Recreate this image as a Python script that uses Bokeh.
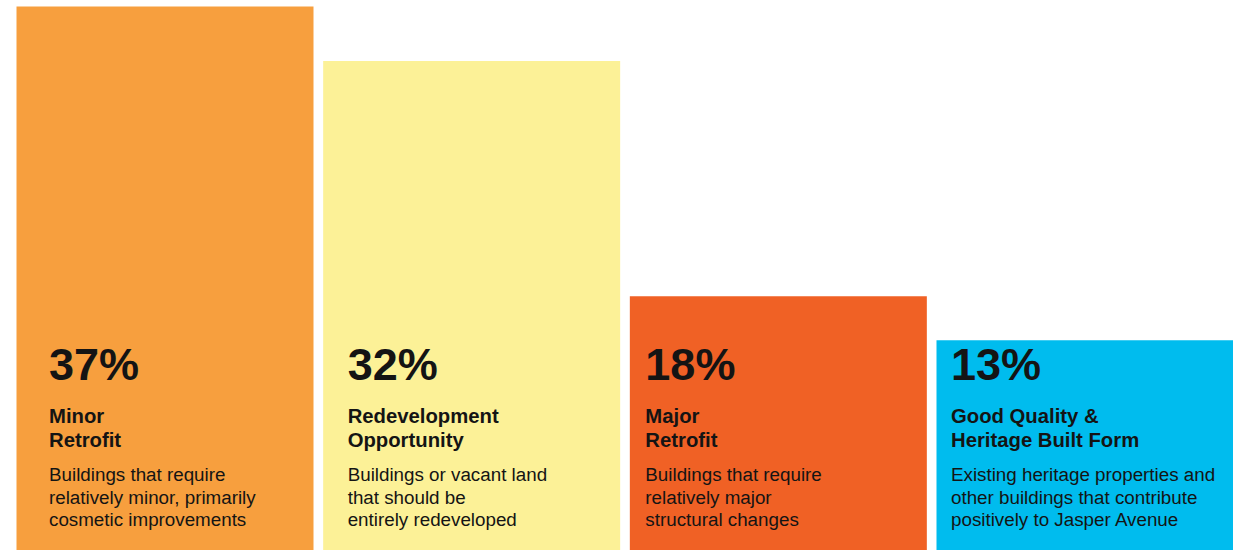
from bokeh.plotting import figure
from bokeh.models import ColumnDataSource, Range1d
from bokeh.core.properties import value
from bokeh.embed import file_html
from bokeh.resources import INLINE

# ---- data ----
categories = ["Minor Retrofit", "Redevelopment Opportunity", "Major Retrofit",
              "Good Quality & Heritage Built Form"]
shares = [37, 32, 18, 13]                      # printed percentages
bar_heights = [37, 33.3, 17.3, 14.3]           # drawn bar heights (same scale as bar 1)
titles = [["Minor", "Retrofit"],
          ["Redevelopment", "Opportunity"],
          ["Major", "Retrofit"],
          ["Good Quality &", "Heritage Built Form"]]
descriptions = [["Buildings that require", "relatively minor, primarily", "cosmetic improvements"],
                ["Buildings or vacant land", "that should be", "entirely redeveloped"],
                ["Buildings that require", "relatively major", "structural changes"],
                ["Existing heritage properties and", "other buildings that contribute", "positively to Jasper Avenue"]]
colors = ["#F79F3E", "#FCF197", "#F06125", "#00BCEE"]

# ---- layout ----
W, H = 1233, 550
s = 920 / 3.0                      # px per category step
x_start = -164.5 / s
x_end = x_start + W / s
bar_w = 297 / s
px_per_unit = 544 / bar_heights[0]
y_end = H / px_per_unit

def ydata(py):
    return (H - py) / px_per_unit

label_dx = [-116, -124, -133, -134]   # text inset from bar centre, px
TXT = "#141414"
FONT = value("Liberation Sans")

p = figure(width=W, height=H, output_backend="svg", toolbar_location=None,
           x_range=Range1d(x_start, x_end), y_range=Range1d(0, y_end),
           min_border=0, min_border_left=0, min_border_right=0,
           min_border_top=0, min_border_bottom=0)
p.axis.visible = False
p.grid.visible = False
p.outline_line_color = None
p.background_fill_color = "white"
p.border_fill_color = "white"

idx = list(range(len(categories)))
bars = ColumnDataSource(dict(x=idx, top=bar_heights, color=colors, cat=categories))
p.vbar(x="x", top="top", width=bar_w, bottom=0, fill_color="color", line_color=None, source=bars)

# percentages
pct = ColumnDataSource(dict(x=idx, y=[ydata(363.5)] * 4, dx=label_dx,
                            t=[f"{v}%" for v in shares]))
p.text(x="x", y="y", x_offset="dx", text="t", source=pct, text_font=FONT,
       text_font_size="45px", text_font_style="bold", text_color=TXT,
       text_baseline="alphabetic", text_align="left")

# titles
tx, ty, tdx, tt = [], [], [], []
for i, lines in enumerate(titles):
    for j, ln in enumerate(lines):
        tx.append(i); ty.append(ydata(415 + 24 * j)); tdx.append(label_dx[i]); tt.append(ln)
p.text(x="x", y="y", x_offset="dx", text="t",
       source=ColumnDataSource(dict(x=tx, y=ty, dx=tdx, t=tt)), text_font=FONT,
       text_font_size="20.3px", text_font_style="bold", text_color=TXT,
       text_baseline="alphabetic", text_align="left")

# descriptions
dx_, dy_, ddx, dt = [], [], [], []
for i, lines in enumerate(descriptions):
    for j, ln in enumerate(lines):
        dx_.append(i); dy_.append(ydata(474 + 22.5 * j)); ddx.append(label_dx[i]); dt.append(ln)
p.text(x="x", y="y", x_offset="dx", text="t",
       source=ColumnDataSource(dict(x=dx_, y=dy_, dx=ddx, t=dt)), text_font=FONT,
       text_font_size="18.8px", text_color=TXT,
       text_baseline="alphabetic", text_align="left")

open("out.html", "w").write(file_html(p, INLINE))
